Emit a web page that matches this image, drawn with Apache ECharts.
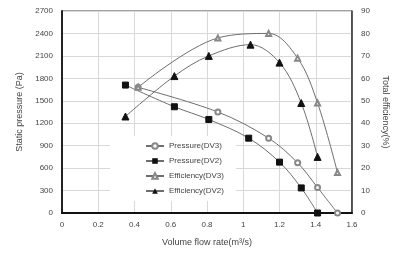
<!DOCTYPE html>
<html>
<head>
<meta charset="utf-8">
<script src="https://cdn.jsdelivr.net/npm/echarts@6/dist/echarts.min.js"></script>
<style>
  html, body { margin: 0; padding: 0; background: #fff; }
  #chart { width: 398px; height: 255px; }
</style>
</head>
<body>
<div id="chart"></div>
<script>
// flow rate (m3/s) for each series
const flowDV3 = [0.42, 0.86, 1.14, 1.30, 1.41, 1.52]
const flowDV2 = [0.35, 0.62, 0.81, 1.03, 1.20, 1.32, 1.41]
const flowEffDV2 = [0.35, 0.62, 0.81, 1.04, 1.20, 1.32, 1.41]

// static pressure (Pa)
const pressureDV3 = [1680, 1350, 1000, 670, 340, 0]
const pressureDV2 = [1710, 1420, 1250, 1000, 680, 335, 0]

// total efficiency (%)
const effDV3 = [56, 78, 80, 69, 49, 18]
const effDV2 = [43, 61, 70, 75, 67, 49, 25]

const pairs = (xs, ys) => xs.map((x, i) => [x, ys[i]])

const lineColor = '#6e6e6e'
const textColor = '#444'

const chart = echarts.init(document.getElementById('chart'))

// empty* symbols are stroked with itemStyle.color and filled white
const mkSeries = (name, data, symbol, filled, yIdx) => ({
  name: name,
  type: 'line',
  yAxisIndex: yIdx,
  data: data,
  smooth: 0.35,
  symbol: symbol,
  symbolSize: filled ? (symbol === 'triangle' ? 7 : 6) : 5,
  lineStyle: { color: lineColor, width: 1 },
  itemStyle: filled
    ? { color: '#111', borderColor: '#111' }
    : { color: '#888', borderWidth: 1 },
  emphasis: { disabled: true }
})

chart.setOption({
  animation: false,
  backgroundColor: '#fff',
  textStyle: { fontFamily: 'Liberation Sans' },
  grid: { left: 62, right: 46, top: 11, bottom: 42, show: true, borderColor: '#444', borderWidth: 1 },
  legend: {
    orient: 'vertical',
    left: 110,
    top: 136,
    padding: [6, 12, 6, 35],
    backgroundColor: '#fff',
    itemGap: 7,
    itemWidth: 18,
    itemHeight: 7,
    textStyle: { fontSize: 8, color: textColor },
    data: ['Pressure(DV3)', 'Pressure(DV2)', 'Efficiency(DV3)', 'Efficiency(DV2)']
  },
  xAxis: {
    type: 'value',
    min: 0,
    max: 1.6,
    interval: 0.2,
    name: 'Volume flow rate(m\u00b3/s)',
    nameLocation: 'middle',
    nameGap: 25,
    nameTextStyle: { fontSize: 9, color: textColor },
    axisLine: { lineStyle: { color: '#111', width: 2 } },
    axisTick: { show: false },
    axisLabel: { fontSize: 8, color: textColor, margin: 8 },
    splitLine: { lineStyle: { color: '#d8d8d8' } }
  },
  yAxis: [
    {
      type: 'value',
      min: 0,
      max: 2700,
      interval: 300,
      name: 'Static pressure (Pa)',
      nameLocation: 'middle',
      nameGap: 38,
      nameTextStyle: { fontSize: 9, color: textColor },
      axisLine: { show: true, lineStyle: { color: '#222', width: 2 } },
      axisTick: { show: false },
      axisLabel: { fontSize: 8, color: textColor, margin: 9, formatter: v => String(v) },
      splitLine: { lineStyle: { color: '#d8d8d8' } }
    },
    {
      type: 'value',
      min: 0,
      max: 90,
      interval: 10,
      position: 'right',
      name: 'Total efficiency(%)',
      nameLocation: 'middle',
      nameGap: 24,
      nameRotate: -90,
      nameTextStyle: { fontSize: 9, color: textColor },
      axisLine: { show: true, lineStyle: { color: '#333', width: 1.5 } },
      axisTick: { show: false },
      axisLabel: { fontSize: 8, color: textColor, margin: 9 },
      splitLine: { show: false }
    }
  ],
  series: [
    mkSeries('Pressure(DV3)', pairs(flowDV3, pressureDV3), 'emptyCircle', false, 0),
    mkSeries('Pressure(DV2)', pairs(flowDV2, pressureDV2), 'rect', true, 0),
    mkSeries('Efficiency(DV3)', pairs(flowDV3, effDV3), 'emptyTriangle', false, 1),
    mkSeries('Efficiency(DV2)', pairs(flowEffDV2, effDV2), 'triangle', true, 1)
  ]
})
</script>
</body>
</html>
